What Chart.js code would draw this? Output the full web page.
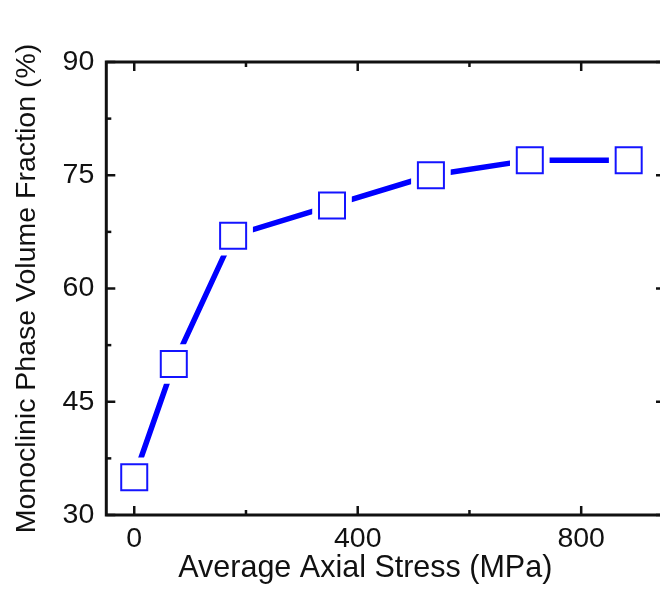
<!DOCTYPE html>
<html>
<head>
<meta charset="utf-8">
<script src="https://cdn.jsdelivr.net/npm/chart.js@4/dist/chart.umd.min.js"></script>
<style>
  html, body { margin: 0; padding: 0; background: #fff; overflow: hidden; width: 660px; height: 592px; }
  canvas { display: block; }
</style>
</head>
<body>
<canvas id="c" width="693" height="592" style="width:693px;height:592px"></canvas>
<script>
// Average axial stress (MPa) and monoclinic phase volume fraction (%)
const stress = [0, 70.8, 177, 354, 531, 708, 885];
const fraction = [35, 50, 67, 71, 75, 77, 77];

const xTicks = [0, 400, 800];
const xMinorTicks = [200, 600];
const yTicks = [30, 45, 60, 75, 90];
const yMinorTicks = [37.5, 52.5, 67.5, 82.5];

const xTitle = 'Average Axial Stress (MPa)';
const yTitle = 'Monoclinic Phase Volume Fraction (%)';

const FONT = '"Liberation Sans", Arial, sans-serif';
const INK = '#111111';
const BLUE = '#0000ff';

const points = stress.map((x, i) => ({ x: x, y: fraction[i] }));

// Boxed frame with inward major/minor ticks on all four sides, plus the x title
const framePlugin = {
  id: 'frame',
  afterDraw(chart) {
    const { ctx, chartArea: { left, right, top, bottom }, scales: { x, y } } = chart;
    ctx.save();
    ctx.strokeStyle = INK;
    ctx.lineCap = 'butt';
    ctx.lineWidth = 3;
    ctx.strokeRect(left, top, right - left, bottom - top);
    ctx.lineWidth = 2.5;
    const seg = (x1, y1, x2, y2) => { ctx.beginPath(); ctx.moveTo(x1, y1); ctx.lineTo(x2, y2); ctx.stroke(); };
    const major = 9, minor = 5;
    xTicks.forEach(v => { const p = x.getPixelForValue(v); seg(p, bottom, p, bottom - major); seg(p, top, p, top + major); });
    xMinorTicks.forEach(v => { const p = x.getPixelForValue(v); seg(p, bottom, p, bottom - minor); seg(p, top, p, top + minor); });
    yTicks.forEach(v => { const p = y.getPixelForValue(v); seg(left, p, left + major, p); seg(right, p, right - major, p); });
    yMinorTicks.forEach(v => { const p = y.getPixelForValue(v); seg(left, p, left + minor, p); seg(right, p, right - minor, p); });

    ctx.fillStyle = INK;
    ctx.font = '30.5px ' + FONT;
    ctx.textAlign = 'center';
    ctx.textBaseline = 'alphabetic';
    ctx.fillText(xTitle, left + 259, bottom + 62);
    ctx.restore();
  }
};

new Chart(document.getElementById('c').getContext('2d'), {
  type: 'scatter',
  data: {
    datasets: [
      { // connecting line
        data: points, showLine: true, borderColor: BLUE, borderWidth: 5.5,
        borderCapStyle: 'butt', pointRadius: 0, order: 3
      },
      { // white clearance around each marker
        data: points, showLine: false, pointStyle: 'rect', pointRadius: 28,
        pointBackgroundColor: '#ffffff', pointBorderColor: '#ffffff', pointBorderWidth: 0, order: 2
      },
      { // open square markers
        data: points, showLine: false, pointStyle: 'rect', pointRadius: 18.4,
        pointBackgroundColor: '#ffffff', pointBorderColor: '#1414ff', pointBorderWidth: 2, order: 1
      }
    ]
  },
  options: {
    responsive: false,
    animation: false,
    events: [],
    layout: { padding: { left: 0, right: 15, top: 62, bottom: 0 } },
    plugins: { legend: { display: false }, tooltip: { enabled: false } },
    scales: {
      x: {
        type: 'linear', min: -50, max: 950,
        afterBuildTicks: s => { s.ticks = xTicks.map(v => ({ value: v })); },
        afterFit: s => { s.height = 77; s.paddingLeft = 0; s.paddingRight = 0; },
        grid: { display: false, drawTicks: false },
        border: { display: false },
        ticks: { font: { family: FONT, size: 28.5 }, color: INK, padding: 7, maxRotation: 0 },
        title: { display: false }
      },
      y: {
        type: 'linear', min: 30, max: 90,
        afterBuildTicks: s => { s.ticks = yTicks.map(v => ({ value: v })); },
        afterFit: s => { s.width = 106.3; s.paddingTop = 0; s.paddingBottom = 0; },
        grid: { display: false, drawTicks: false },
        border: { display: false },
        ticks: { font: { family: FONT, size: 28.5 }, color: INK, padding: 12 },
        title: { display: true, text: yTitle, font: { family: FONT, size: 28.5 }, color: INK, padding: { top: 10, bottom: 0 } }
      }
    }
  },
  plugins: [framePlugin]
});
</script>
</body>
</html>
